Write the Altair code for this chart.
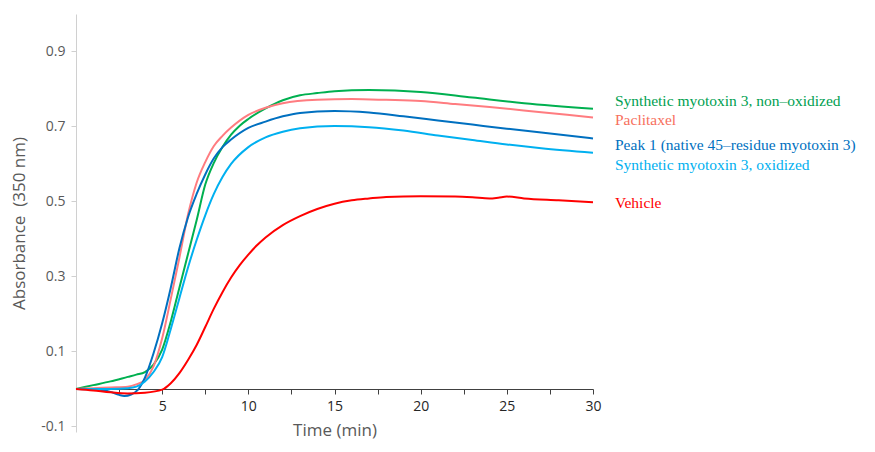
import altair as alt
import pandas as pd

# ---- data ----
green_t = [0, 1, 2, 3, 3.5, 4, 4.5, 5, 5.5, 6, 6.5, 7, 7.5, 8, 8.5, 9, 9.5, 10, 11, 12, 13, 14, 15, 17, 20, 23, 26, 30]
green_a = [0, 0.01, 0.02, 0.032, 0.038, 0.045, 0.065, 0.105, 0.18, 0.27, 0.36, 0.45, 0.545, 0.603, 0.645, 0.678, 0.702, 0.72, 0.748, 0.77, 0.783, 0.789, 0.794, 0.797, 0.792, 0.777, 0.762, 0.747]

pink_t = [0, 1, 2, 3, 3.5, 4, 4.5, 5, 5.5, 6, 6.5, 7, 7.5, 8, 8.5, 9, 10, 11, 12, 14, 16, 18, 20, 22, 24, 27, 30]
pink_a = [0, 0.002, 0.004, 0.006, 0.012, 0.024, 0.06, 0.135, 0.24, 0.35, 0.465, 0.55, 0.605, 0.648, 0.675, 0.697, 0.731, 0.75, 0.762, 0.771, 0.773, 0.771, 0.768, 0.76, 0.752, 0.738, 0.724]

peak_t = [0, 1, 1.5, 2, 2.5, 2.8, 3.2, 3.6, 4, 4.5, 5, 5.5, 6, 6.5, 7, 7.5, 8, 8.5, 9, 10, 11, 12, 13, 15, 17, 19, 21, 23, 25, 27, 30]
peak_a = [0, -0.001, -0.003, -0.008, -0.016, -0.019, -0.015, -0.002, 0.03, 0.095, 0.175, 0.27, 0.375, 0.458, 0.52, 0.572, 0.615, 0.645, 0.665, 0.696, 0.713, 0.727, 0.736, 0.741, 0.737, 0.727, 0.716, 0.705, 0.694, 0.684, 0.668]

oxid_t = [0, 1, 2, 3, 3.5, 4, 4.5, 5, 5.5, 6, 6.5, 7, 7.5, 8, 8.5, 9, 10, 11, 12, 13, 15, 17, 19, 21, 23, 25, 27, 30]
oxid_a = [0, 0, 0, 0.002, 0.006, 0.02, 0.045, 0.085, 0.16, 0.242, 0.324, 0.397, 0.463, 0.52, 0.565, 0.6, 0.645, 0.671, 0.686, 0.695, 0.701, 0.698, 0.689, 0.676, 0.664, 0.652, 0.642, 0.63]

veh_t = [0, 1, 2, 3, 4, 5, 5.5, 6, 6.5, 7, 7.5, 8, 8.5, 9, 9.5, 10, 10.5, 11, 12, 13, 14, 15, 16, 17, 18, 20, 22, 23, 24, 24.5, 25, 26, 28, 30]
veh_a = [0, -0.004, -0.009, -0.012, -0.01, -0.002, 0.015, 0.042, 0.077, 0.117, 0.165, 0.214, 0.258, 0.297, 0.33, 0.358, 0.383, 0.404, 0.437, 0.461, 0.48, 0.494, 0.503, 0.508, 0.512, 0.514, 0.513, 0.511, 0.508, 0.510, 0.513, 0.508, 0.503, 0.498]

series_names = [
    "Synthetic myotoxin 3, non–oxidized",
    "Paclitaxel",
    "Peak 1 (native 45–residue myotoxin 3)",
    "Synthetic myotoxin 3, oxidized",
    "Vehicle",
]
line_colors = ["#00b050", "#ff7c80", "#0070c0", "#00b0f0", "#ff0000"]
label_colors = ["#00a050", "#f7705e", "#0070c0", "#00b0f0", "#ff0000"]
label_y = [0.769, 0.716, 0.651, 0.597, 0.496]

x_ticks = [i * 1.25 for i in range(25)]
y_ticks = [round(-0.1 + i * 0.05, 2) for i in range(23)]

# ---- build tables ----
rows = []
for name, ts, vs in zip(series_names,
                        [green_t, pink_t, peak_t, oxid_t, veh_t],
                        [green_a, pink_a, peak_a, oxid_a, veh_a]):
    for t, v in zip(ts, vs):
        rows.append({"series": name, "t": t, "a": v})
df = pd.DataFrame(rows)
labels_df = pd.DataFrame({"series": series_names, "t": [30] * 5, "a": label_y})

W, H = 517, 418
x_scale = alt.Scale(domain=[0, 30], nice=False, zero=False)
y_scale = alt.Scale(domain=[-0.115, 1.0], nice=False, zero=False)
color_scale = alt.Scale(domain=series_names, range=line_colors)

lines = alt.Chart(df).mark_line(strokeWidth=2, interpolate="monotone").encode(
    x=alt.X("t:Q", scale=x_scale,
            axis=alt.Axis(title="Time (min)", values=x_ticks, offset=-43,
                          labelExpr="(datum.value % 5 == 0 && datum.value > 0) ? datum.value : ''",
                          domainColor="#404040", tickColor="#404040", tickSize=5,
                          labelColor="#262626", labelFontSize=14, labelPadding=5,
                          labelFont="Open Sans", titleFont="Open Sans", titleFontSize=17,
                          titleFontWeight="normal", titleColor="#595959", titlePadding=9,
                          grid=False, labelFlush=False)),
    y=alt.Y("a:Q", scale=y_scale,
            axis=alt.Axis(title="Absorbance\u00a0\u00a0(350 nm)", values=y_ticks,
                          labelExpr="(abs(round(datum.value*10) - datum.value*10) < 0.001 && abs(round(datum.value*10)) % 2 == 1) ? (datum.value < 0 ? '-' + format(abs(datum.value), '.1f') : format(datum.value, '.1f')) : ''",
                          domainColor="#d0d0d0", tickColor="#d0d0d0", tickSize=5,
                          labelColor="#595959", labelFontSize=14, labelPadding=6,
                          labelFont="Open Sans", titleFont="Open Sans", titleFontSize=17,
                          titleFontWeight="normal", titleColor="#595959", titlePadding=12,
                          grid=False)),
    color=alt.Color("series:N", scale=color_scale, legend=None),
    detail="series:N",
)

texts = alt.Chart(labels_df).mark_text(
    align="left", baseline="middle", dx=22, font="Liberation Serif", fontSize=15.5
).encode(
    x=alt.X("t:Q", scale=x_scale),
    y=alt.Y("a:Q", scale=y_scale),
    text="series:N",
    color=alt.Color("series:N", scale=alt.Scale(domain=series_names, range=label_colors), legend=None),
)

chart = alt.layer(lines, texts).resolve_scale(color="independent").properties(
    width=W, height=H,
    background="white",
    autosize=alt.AutoSizeParams(type="none"),
    padding={"left": 68, "top": 6, "right": 274, "bottom": 12},
).configure_view(strokeWidth=0, stroke="transparent")

chart.save("out.html", embed_options={"renderer": "svg", "actions": False})
